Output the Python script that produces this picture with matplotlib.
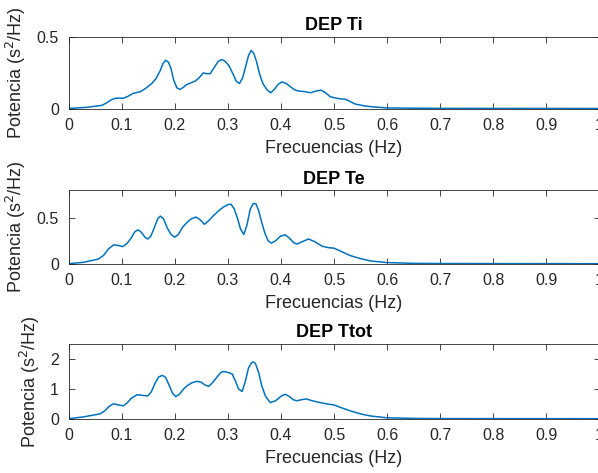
import numpy as np
import matplotlib
matplotlib.use("Agg")
import matplotlib.pyplot as plt

plt.rcParams['font.family'] = ['Liberation Sans', 'DejaVu Sans']

# frecuencias / potencia
f_ti = [0, .034, .063, .072, .08, .088, .096, .103, .112, .122, .135, .145, .157, .165, .173,
        .178, .183, .188, .193, .198, .204, .21, .217, .223, .231, .239, .246, .254, .261, .267,
        .275, .282, .289, .295, .302, .31, .316, .322, .328, .334, .339, .344, .349, .354, .36,
        .366, .374, .381, .388, .395, .402, .41, .418, .426, .434, .445, .456, .466, .476, .484,
        .493, .507, .522, .53, .54, .555, .569, .6, .65, .7, 1.0]
p_ti = [0, .008, .022, .04, .06, .071, .073, .071, .085, .106, .117, .14, .175, .21, .267,
        .315, .337, .325, .28, .2, .145, .133, .15, .168, .18, .193, .215, .249, .243, .244,
        .29, .33, .342, .33, .3, .24, .19, .175, .215, .3, .37, .406, .385, .33, .24,
        .175, .13, .11, .135, .17, .186, .175, .152, .13, .122, .118, .11, .122, .128, .11,
        .082, .07, .064, .05, .031, .02, .013, .004, .002, .001, 0]

f_te = [0, .028, .056, .066, .075, .085, .093, .102, .11, .118, .125, .131, .137, .144, .149,
        .155, .162, .168, .173, .179, .186, .193, .2, .207, .215, .223, .231, .24, .248, .256,
        .264, .273, .283, .292, .3, .306, .312, .318, .324, .33, .336, .342, .348, .353, .358,
        .364, .37, .376, .382, .39, .399, .408, .416, .424, .43, .44, .452, .464, .478, .49,
        .5, .515, .531, .55, .569, .6, .65, .7, 1.0]
p_te = [0, .015, .05, .09, .16, .206, .2, .187, .22, .28, .35, .37, .345, .29, .27,
        .3, .4, .49, .52, .49, .39, .32, .29, .32, .4, .45, .49, .51, .48, .43,
        .47, .525, .58, .62, .645, .65, .6, .5, .38, .32, .42, .59, .66, .655, .58,
        .45, .33, .25, .225, .25, .3, .316, .28, .23, .214, .24, .27, .24, .19, .175,
        .17, .13, .088, .055, .03, .012, .004, .002, 0]

f_tot = [0, .028, .059, .068, .077, .085, .094, .103, .11, .118, .129, .14, .149, .156, .163,
         .17, .177, .183, .19, .196, .202, .209, .216, .223, .232, .242, .25, .257, .264, .271,
         .28, .287, .292, .3, .308, .314, .32, .327, .333, .339, .345, .348, .352, .358, .364,
         .371, .38, .39, .4, .408, .416, .424, .43, .44, .448, .459, .471, .485, .5, .515,
         .531, .55, .569, .6, .65, .7, 1.0]
p_tot = [0, .06, .16, .26, .42, .5, .46, .43, .52, .68, .8, .78, .76, .9, 1.19,
         1.4, 1.45, 1.38, 1.1, .85, .74, .82, .98, 1.1, 1.2, 1.25, 1.22, 1.13, 1.08, 1.2,
         1.4, 1.55, 1.58, 1.55, 1.5, 1.28, 1.0, .91, 1.25, 1.7, 1.88, 1.9, 1.85, 1.55, 1.1,
         .75, .54, .6, .75, .82, .74, .63, .6, .64, .66, .6, .55, .5, .46, .36,
         .26, .16, .09, .03, .01, .004, 0]

titulos = ["DEP Ti", "DEP Te", "DEP Ttot"]
ylims = [0.5, 0.8, 2.5]
yticks = [[0, 0.5], [0, 0.5], [0, 1, 2]]
datos = [(f_ti, p_ti), (f_te, p_te), (f_tot, p_tot)]

# posiciones de los ejes en pixeles (arriba, abajo)
W, H = 598, 473
cajas = [(37, 108.5), (190.5, 263.7), (344, 418.7)]

fig = plt.figure(figsize=(W / 100, H / 100), dpi=100)
gris = '#262626'
for (top, bot), tit, yl, yt, (f, p) in zip(cajas, titulos, ylims, yticks, datos):
    ax = fig.add_axes([68.5 / W, 1 - bot / H, 531 / W, (bot - top) / H])
    ax.plot(f, p, color='#0072BD', lw=1.1)
    ax.set_xlim(0, 1)
    ax.set_ylim(0, yl)
    ax.set_xticks(np.arange(0, 1.01, 0.1))
    ax.set_xticklabels(['0', '0.1', '0.2', '0.3', '0.4', '0.5', '0.6', '0.7', '0.8', '0.9', '1'])
    ax.set_yticks(yt)
    ax.set_yticklabels([('%g' % v) for v in yt])
    ax.tick_params(direction='in', length=4, width=0.6, colors=gris, labelsize=11.5,
                   top=True, right=True, labelcolor=gris, pad=7)
    for s in ax.spines.values():
        s.set_color(gris)
        s.set_linewidth(0.6)
    ax.set_title(tit, fontsize=13, fontweight='bold', color='black', pad=5)
    ax.set_xlabel('Frecuencias (Hz)', fontsize=13, color=gris, labelpad=5)
    ax.set_ylabel('Potencia (s$^2$/Hz)', fontsize=13, color=gris, labelpad=6)

fig.savefig('out.png', dpi=100)
